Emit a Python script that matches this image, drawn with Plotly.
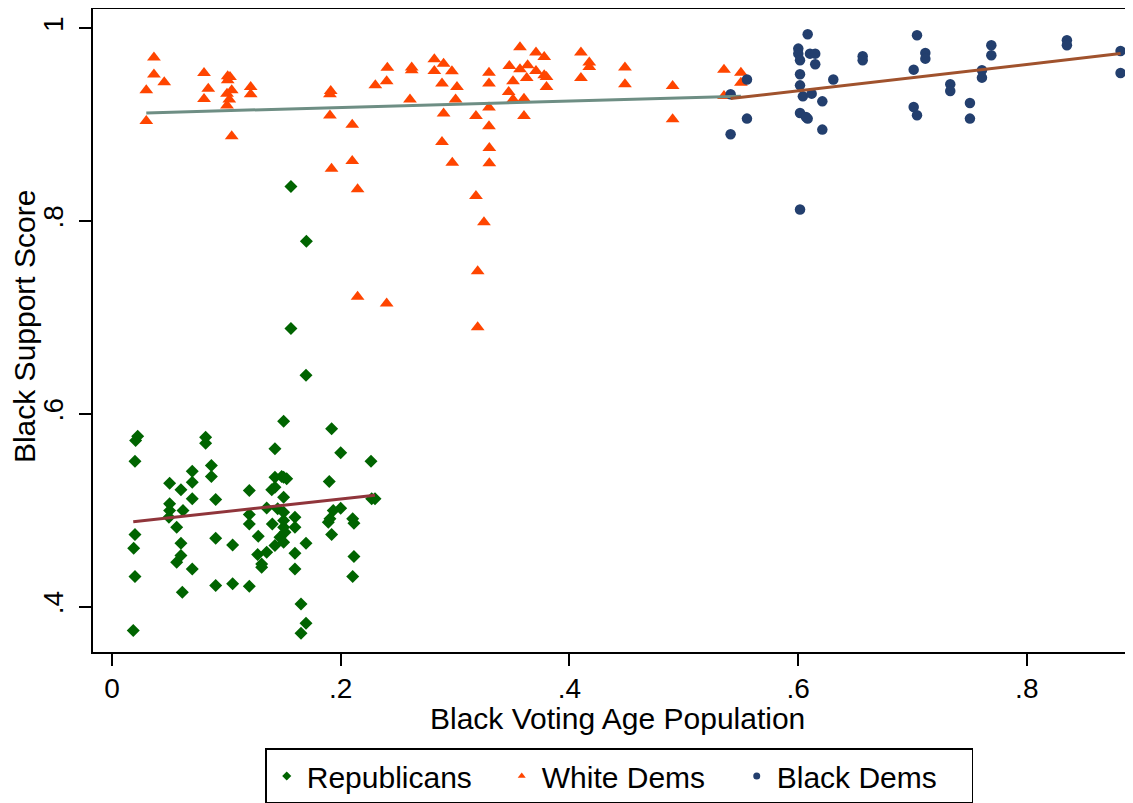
import numpy as np
import plotly.graph_objects as go

# ---------------- data ----------------
rep_x = [0.0225, 0.0207, 0.0201, 0.0201, 0.0190, 0.0201, 0.0186, 0.0819, 0.0819, 0.0869,
         0.0869, 0.0702, 0.0702, 0.0504, 0.0603, 0.0702, 0.0907, 0.0504, 0.0504, 0.0621,
         0.0498, 0.0566, 0.0603, 0.0603, 0.0566, 0.0702, 0.0615, 0.0907, 0.1055, 0.0907,
         0.1055, 0.1201, 0.1201, 0.1201, 0.1201, 0.1279, 0.1274, 0.1309, 0.1309, 0.1353,
         0.1425, 0.1425, 0.1397, 0.1425, 0.1501, 0.1501, 0.1528, 0.1484, 0.1353, 0.1449,
         0.1501, 0.1501, 0.1501, 0.1402, 0.1501, 0.1513, 0.1469, 0.1501, 0.1425, 0.1600,
         0.1600, 0.1600, 0.1600, 0.1697, 0.1653, 0.1697, 0.1653, 0.1921, 0.2000, 0.1900,
         0.1935, 0.2000, 0.1906, 0.1892, 0.1921, 0.2105, 0.2116, 0.2116, 0.2105, 0.2265,
         0.2271, 0.2300, 0.1565, 0.1700, 0.1565, 0.1697]
rep_y = [0.5769, 0.5724, 0.5509, 0.4748, 0.4606, 0.4312, 0.3752, 0.5758, 0.5696, 0.5465,
         0.5350, 0.5405, 0.5290, 0.5280, 0.5212, 0.5119, 0.5112, 0.5067, 0.4997, 0.4997,
         0.4928, 0.4824, 0.4658, 0.4530, 0.4460, 0.4392, 0.4150, 0.4709, 0.4641, 0.4219,
         0.4237, 0.4212, 0.5205, 0.4956, 0.4859, 0.4730, 0.4541, 0.4444, 0.4409, 0.4565,
         0.5638, 0.5343, 0.5212, 0.5240, 0.5924, 0.5343, 0.5326, 0.5350, 0.5024, 0.5015,
         0.5135, 0.4980, 0.4894, 0.4859, 0.4824, 0.4772, 0.4720, 0.4669, 0.4634, 0.4928,
         0.4824, 0.4554, 0.4392, 0.4658, 0.4029, 0.3828, 0.3724, 0.5845, 0.5596, 0.5298,
         0.4997, 0.5021, 0.4911, 0.4876, 0.4748, 0.4911, 0.4866, 0.4520, 0.4312, 0.5509,
         0.5119, 0.5119, 0.8360, 0.7790, 0.6886, 0.6400]

wd_x = [0.0367, 0.0367, 0.0457, 0.0300, 0.0300, 0.0805, 0.0842, 0.0805, 0.1012, 0.1032,
        0.1012, 0.1047, 0.1006, 0.1026, 0.1006, 0.1047, 0.1213, 0.1213, 0.1913, 0.1906,
        0.1906, 0.2101, 0.2303, 0.2408, 0.2402, 0.1920, 0.2101, 0.2148, 0.2148, 0.2402,
        0.2886, 0.2976, 0.3300, 0.3300, 0.3183, 0.3253, 0.3198, 0.3198, 0.2621, 0.2621,
        0.2606, 0.2819, 0.2819, 0.2900, 0.2973, 0.2886, 0.3017, 0.3005, 0.2900, 0.3183,
        0.3297, 0.3297, 0.3297, 0.3297, 0.3475, 0.3568, 0.3568, 0.3635, 0.3708, 0.3780,
        0.3708, 0.3627, 0.3780, 0.3800, 0.3800, 0.3507, 0.3469, 0.3507, 0.3603, 0.3603,
        0.4101, 0.4174, 0.4174, 0.4101, 0.4486, 0.4486, 0.4903, 0.4903, 0.5352, 0.5500,
        0.5500, 0.5352]
wd_y = [0.9696, 0.9520, 0.9440, 0.9357, 0.9038, 0.9536, 0.9374, 0.9266, 0.9502, 0.9495,
        0.9460, 0.9357, 0.9322, 0.9260, 0.9200, 0.8880, 0.9390, 0.9315, 0.9350, 0.9315,
        0.9094, 0.9000, 0.9410, 0.9590, 0.9450, 0.8544, 0.8623, 0.8329, 0.7215, 0.7146,
        0.8820, 0.8606, 0.8758, 0.8600, 0.8260, 0.7987, 0.7480, 0.6900, 0.9592, 0.9564,
        0.9260, 0.9678, 0.9557, 0.9633, 0.9554, 0.9426, 0.9390, 0.9260, 0.9115, 0.9090,
        0.9540, 0.9426, 0.9177, 0.8983, 0.9609, 0.9803, 0.9574, 0.9616, 0.9748, 0.9702,
        0.9557, 0.9484, 0.9512, 0.9495, 0.9390, 0.9450, 0.9339, 0.9260, 0.9270, 0.9090,
        0.9748, 0.9644, 0.9598, 0.9484, 0.9592, 0.9419, 0.9400, 0.9056, 0.9570, 0.9540,
        0.9436, 0.9297]

bd_x = [0.5553, 0.5410, 0.5553, 0.5410, 0.6084, 0.6002, 0.6002, 0.6017, 0.6104, 0.6150,
        0.6150, 0.6017, 0.6017, 0.6308, 0.6042, 0.6119, 0.6212, 0.6017, 0.6084, 0.6069,
        0.6212, 0.6017, 0.6565, 0.6565, 0.7040, 0.7113, 0.7113, 0.7011, 0.7331, 0.7331,
        0.7011, 0.7040, 0.7503, 0.7503, 0.7690, 0.7690, 0.7608, 0.7608, 0.8351, 0.8351,
        0.8820, 0.8820]
bd_y = [0.9468, 0.9315, 0.9063, 0.8900, 0.9938, 0.9789, 0.9737, 0.9668, 0.9737, 0.9737,
        0.9626, 0.9523, 0.9408, 0.9468, 0.9294, 0.9322, 0.9242, 0.9121, 0.9063, 0.9080,
        0.8949, 0.8121, 0.9709, 0.9668, 0.9927, 0.9744, 0.9685, 0.9571, 0.9419, 0.9349,
        0.9183, 0.9097, 0.9225, 0.9063, 0.9824, 0.9720, 0.9564, 0.9488, 0.9875, 0.9824,
        0.9765, 0.9536]

group_names = ["Republicans", "White Dems", "Black Dems"]
x_ticks = [0, 0.2, 0.4, 0.6, 0.8]
x_ticklabels = ["0", ".2", ".4", ".6", ".8"]
y_ticks = [0.4, 0.6, 0.8, 1.0]
y_ticklabels = [".4", ".6", ".8", "1"]
x_title = "Black Voting Age Population"
y_title = "Black Support Score"

# ---------------- styling ----------------
FONT = "Liberation Sans, Arial, sans-serif"
marker_colors = ["#006400", "#FF4500", "#233F6E"]
marker_symbols = ["diamond", "triangle-up", "circle"]
marker_sizes = [10, 12, 10.5]
fit_colors = ["#90353B", "#6E8E84", "#A0522D"]


def linear_fit(xs, ys):
    slope, intercept = np.polyfit(xs, ys, 1)
    lo, hi = min(xs), max(xs)
    return [lo, hi], [intercept + slope * lo, intercept + slope * hi]


fig = go.Figure()
groups = [(rep_x, rep_y), (wd_x, wd_y), (bd_x, bd_y)]

for i, (gx, gy) in enumerate(groups):
    fig.add_trace(go.Scatter(
        x=gx, y=gy, mode="markers", name=group_names[i], showlegend=False,
        marker=dict(symbol=marker_symbols[i], size=marker_sizes[i],
                    color=marker_colors[i], line=dict(width=0)),
    ))

for i, (gx, gy) in enumerate(groups):
    fx, fy = linear_fit(gx, gy)
    fig.add_trace(go.Scatter(
        x=fx, y=fy, mode="lines", showlegend=False,
        line=dict(color=fit_colors[i], width=3),
    ))

# legend entries (smaller symbols, as in the reference legend)
for i in range(3):
    fig.add_trace(go.Scatter(
        x=[None], y=[None], mode="markers", name=group_names[i],
        marker=dict(symbol=marker_symbols[i], size=7, color=marker_colors[i]),
    ))

fig.update_layout(
    width=1125, height=795,
    margin=dict(l=85, r=0, t=1, b=151, autoexpand=False),
    paper_bgcolor="white", plot_bgcolor="white",
    font=dict(family=FONT, color="black"),
    showlegend=True,
    legend=dict(
        orientation="h", x=0.506, xanchor="center", y=-0.150, yanchor="top",
        bordercolor="black", borderwidth=1.5, bgcolor="white",
        font=dict(family=FONT, size=30, color="black"),
        entrywidth=190, entrywidthmode="pixels",
        traceorder="normal",
    ),
    xaxis=dict(
        range=[-0.0166, 0.8929], tickmode="array", tickvals=x_ticks, ticktext=x_ticklabels,
        ticks="outside", ticklen=12, tickwidth=1.5, tickcolor="black",
        ticklabelstandoff=-2,
        showline=True, linewidth=2, linecolor="black", mirror=True,
        showgrid=False, zeroline=False,
        tickfont=dict(family=FONT, size=28),
    ),
    yaxis=dict(
        range=[0.353, 1.020], tickmode="array", tickvals=y_ticks, ticktext=y_ticklabels,
        tickangle=-90, ticklabelstandoff=5,
        ticks="outside", ticklen=12, tickwidth=1.5, tickcolor="black",
        showline=True, linewidth=2, linecolor="black", mirror=False,
        showgrid=False, zeroline=False,
        tickfont=dict(family=FONT, size=28),
    ),
    annotations=[
        dict(text=x_title, xref="paper", yref="paper", x=0.5043, y=-0.103,
             xanchor="center", yanchor="middle", showarrow=False,
             font=dict(family=FONT, size=30, color="black")),
        dict(text=y_title, xref="paper", yref="paper", x=-0.0663, y=0.5054,
             xanchor="center", yanchor="middle", showarrow=False, textangle=-90,
             font=dict(family=FONT, size=30, color="black")),
    ],
)

fig.write_html("out.html")
